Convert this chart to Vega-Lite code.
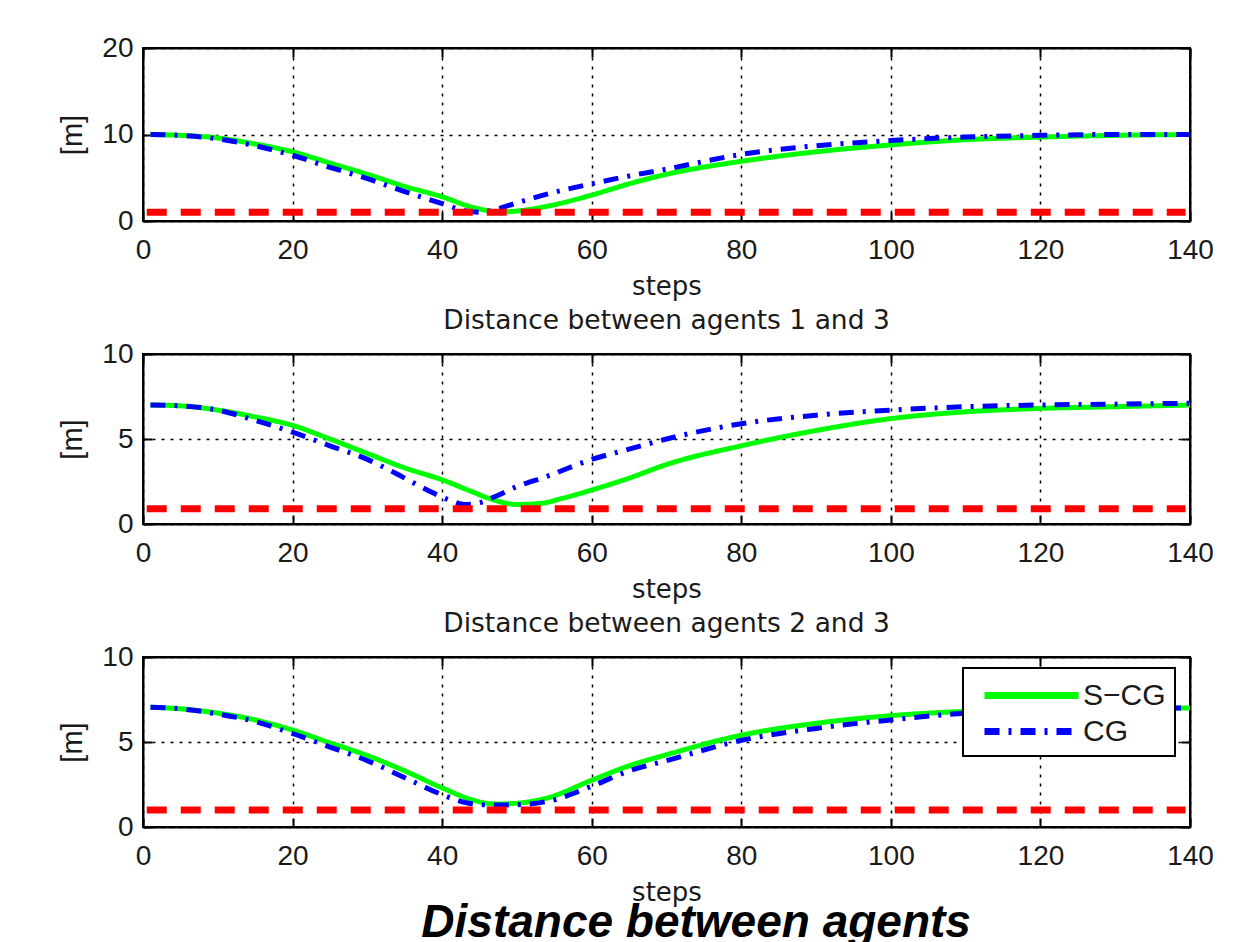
{
  "$schema": "https://vega.github.io/schema/vega-lite/v6.json",
  "padding": {"top": 33, "left": 57, "right": 0, "bottom": 0},
  "background": "white",
  "datasets": {
    "curves": [
      {"panel": 1, "series": "S-CG", "step": 1, "value": 10.0},
      {"panel": 1, "series": "S-CG", "step": 5, "value": 9.9},
      {"panel": 1, "series": "S-CG", "step": 10, "value": 9.6},
      {"panel": 1, "series": "S-CG", "step": 15, "value": 8.9},
      {"panel": 1, "series": "S-CG", "step": 20, "value": 8.0},
      {"panel": 1, "series": "S-CG", "step": 25, "value": 6.7},
      {"panel": 1, "series": "S-CG", "step": 30, "value": 5.4},
      {"panel": 1, "series": "S-CG", "step": 35, "value": 4.0},
      {"panel": 1, "series": "S-CG", "step": 40, "value": 2.8},
      {"panel": 1, "series": "S-CG", "step": 44, "value": 1.6},
      {"panel": 1, "series": "S-CG", "step": 48, "value": 1.05},
      {"panel": 1, "series": "S-CG", "step": 50, "value": 1.15},
      {"panel": 1, "series": "S-CG", "step": 54, "value": 1.7},
      {"panel": 1, "series": "S-CG", "step": 60, "value": 3.0},
      {"panel": 1, "series": "S-CG", "step": 65, "value": 4.3},
      {"panel": 1, "series": "S-CG", "step": 70, "value": 5.4},
      {"panel": 1, "series": "S-CG", "step": 80, "value": 6.9},
      {"panel": 1, "series": "S-CG", "step": 90, "value": 8.0},
      {"panel": 1, "series": "S-CG", "step": 100, "value": 8.8},
      {"panel": 1, "series": "S-CG", "step": 110, "value": 9.4},
      {"panel": 1, "series": "S-CG", "step": 120, "value": 9.7},
      {"panel": 1, "series": "S-CG", "step": 130, "value": 9.9},
      {"panel": 1, "series": "S-CG", "step": 140, "value": 10.0},
      {"panel": 1, "series": "CG", "step": 1, "value": 10.0},
      {"panel": 1, "series": "CG", "step": 5, "value": 9.9},
      {"panel": 1, "series": "CG", "step": 10, "value": 9.5},
      {"panel": 1, "series": "CG", "step": 15, "value": 8.7},
      {"panel": 1, "series": "CG", "step": 20, "value": 7.6},
      {"panel": 1, "series": "CG", "step": 25, "value": 6.2},
      {"panel": 1, "series": "CG", "step": 30, "value": 4.9},
      {"panel": 1, "series": "CG", "step": 35, "value": 3.4},
      {"panel": 1, "series": "CG", "step": 40, "value": 2.0},
      {"panel": 1, "series": "CG", "step": 43, "value": 1.2},
      {"panel": 1, "series": "CG", "step": 45, "value": 1.0},
      {"panel": 1, "series": "CG", "step": 47, "value": 1.3},
      {"panel": 1, "series": "CG", "step": 50, "value": 2.1},
      {"panel": 1, "series": "CG", "step": 54, "value": 3.1},
      {"panel": 1, "series": "CG", "step": 60, "value": 4.3},
      {"panel": 1, "series": "CG", "step": 65, "value": 5.2},
      {"panel": 1, "series": "CG", "step": 70, "value": 6.0},
      {"panel": 1, "series": "CG", "step": 80, "value": 7.7},
      {"panel": 1, "series": "CG", "step": 90, "value": 8.7},
      {"panel": 1, "series": "CG", "step": 100, "value": 9.3},
      {"panel": 1, "series": "CG", "step": 110, "value": 9.7},
      {"panel": 1, "series": "CG", "step": 120, "value": 9.9},
      {"panel": 1, "series": "CG", "step": 130, "value": 10.0},
      {"panel": 1, "series": "CG", "step": 140, "value": 10.0},
      {"panel": 2, "series": "S-CG", "step": 1, "value": 7.0},
      {"panel": 2, "series": "S-CG", "step": 5, "value": 6.95},
      {"panel": 2, "series": "S-CG", "step": 10, "value": 6.7},
      {"panel": 2, "series": "S-CG", "step": 15, "value": 6.3},
      {"panel": 2, "series": "S-CG", "step": 20, "value": 5.8},
      {"panel": 2, "series": "S-CG", "step": 25, "value": 5.0},
      {"panel": 2, "series": "S-CG", "step": 30, "value": 4.15},
      {"panel": 2, "series": "S-CG", "step": 35, "value": 3.3},
      {"panel": 2, "series": "S-CG", "step": 40, "value": 2.6},
      {"panel": 2, "series": "S-CG", "step": 44, "value": 1.9},
      {"panel": 2, "series": "S-CG", "step": 47, "value": 1.4},
      {"panel": 2, "series": "S-CG", "step": 50, "value": 1.15},
      {"panel": 2, "series": "S-CG", "step": 53, "value": 1.2},
      {"panel": 2, "series": "S-CG", "step": 56, "value": 1.5},
      {"panel": 2, "series": "S-CG", "step": 60, "value": 2.0},
      {"panel": 2, "series": "S-CG", "step": 65, "value": 2.7},
      {"panel": 2, "series": "S-CG", "step": 70, "value": 3.5},
      {"panel": 2, "series": "S-CG", "step": 80, "value": 4.6},
      {"panel": 2, "series": "S-CG", "step": 90, "value": 5.5},
      {"panel": 2, "series": "S-CG", "step": 100, "value": 6.2},
      {"panel": 2, "series": "S-CG", "step": 110, "value": 6.6},
      {"panel": 2, "series": "S-CG", "step": 120, "value": 6.8},
      {"panel": 2, "series": "S-CG", "step": 130, "value": 6.9},
      {"panel": 2, "series": "S-CG", "step": 140, "value": 7.0},
      {"panel": 2, "series": "CG", "step": 1, "value": 7.0},
      {"panel": 2, "series": "CG", "step": 5, "value": 6.95},
      {"panel": 2, "series": "CG", "step": 10, "value": 6.7},
      {"panel": 2, "series": "CG", "step": 15, "value": 6.1},
      {"panel": 2, "series": "CG", "step": 20, "value": 5.4},
      {"panel": 2, "series": "CG", "step": 25, "value": 4.6},
      {"panel": 2, "series": "CG", "step": 30, "value": 3.8},
      {"panel": 2, "series": "CG", "step": 35, "value": 2.7},
      {"panel": 2, "series": "CG", "step": 38, "value": 2.0},
      {"panel": 2, "series": "CG", "step": 41, "value": 1.4},
      {"panel": 2, "series": "CG", "step": 43, "value": 1.15},
      {"panel": 2, "series": "CG", "step": 45, "value": 1.25},
      {"panel": 2, "series": "CG", "step": 47, "value": 1.6},
      {"panel": 2, "series": "CG", "step": 50, "value": 2.2},
      {"panel": 2, "series": "CG", "step": 54, "value": 2.8},
      {"panel": 2, "series": "CG", "step": 60, "value": 3.8},
      {"panel": 2, "series": "CG", "step": 65, "value": 4.4},
      {"panel": 2, "series": "CG", "step": 70, "value": 5.0},
      {"panel": 2, "series": "CG", "step": 80, "value": 5.9},
      {"panel": 2, "series": "CG", "step": 90, "value": 6.4},
      {"panel": 2, "series": "CG", "step": 100, "value": 6.7},
      {"panel": 2, "series": "CG", "step": 110, "value": 6.9},
      {"panel": 2, "series": "CG", "step": 120, "value": 7.0},
      {"panel": 2, "series": "CG", "step": 130, "value": 7.05},
      {"panel": 2, "series": "CG", "step": 140, "value": 7.1},
      {"panel": 3, "series": "S-CG", "step": 1, "value": 7.05},
      {"panel": 3, "series": "S-CG", "step": 5, "value": 6.95},
      {"panel": 3, "series": "S-CG", "step": 10, "value": 6.7},
      {"panel": 3, "series": "S-CG", "step": 15, "value": 6.3},
      {"panel": 3, "series": "S-CG", "step": 20, "value": 5.7},
      {"panel": 3, "series": "S-CG", "step": 25, "value": 4.95},
      {"panel": 3, "series": "S-CG", "step": 30, "value": 4.2},
      {"panel": 3, "series": "S-CG", "step": 35, "value": 3.3},
      {"panel": 3, "series": "S-CG", "step": 40, "value": 2.3},
      {"panel": 3, "series": "S-CG", "step": 44, "value": 1.6},
      {"panel": 3, "series": "S-CG", "step": 47, "value": 1.35},
      {"panel": 3, "series": "S-CG", "step": 50, "value": 1.4},
      {"panel": 3, "series": "S-CG", "step": 54, "value": 1.7},
      {"panel": 3, "series": "S-CG", "step": 60, "value": 2.75},
      {"panel": 3, "series": "S-CG", "step": 65, "value": 3.6},
      {"panel": 3, "series": "S-CG", "step": 70, "value": 4.25},
      {"panel": 3, "series": "S-CG", "step": 80, "value": 5.4},
      {"panel": 3, "series": "S-CG", "step": 90, "value": 6.1},
      {"panel": 3, "series": "S-CG", "step": 100, "value": 6.55},
      {"panel": 3, "series": "S-CG", "step": 110, "value": 6.8},
      {"panel": 3, "series": "S-CG", "step": 120, "value": 6.9},
      {"panel": 3, "series": "S-CG", "step": 130, "value": 7.0},
      {"panel": 3, "series": "S-CG", "step": 140, "value": 7.0},
      {"panel": 3, "series": "CG", "step": 1, "value": 7.05},
      {"panel": 3, "series": "CG", "step": 5, "value": 6.95},
      {"panel": 3, "series": "CG", "step": 10, "value": 6.65},
      {"panel": 3, "series": "CG", "step": 15, "value": 6.2},
      {"panel": 3, "series": "CG", "step": 20, "value": 5.5},
      {"panel": 3, "series": "CG", "step": 25, "value": 4.7},
      {"panel": 3, "series": "CG", "step": 30, "value": 3.9},
      {"panel": 3, "series": "CG", "step": 35, "value": 2.9},
      {"panel": 3, "series": "CG", "step": 40, "value": 1.9},
      {"panel": 3, "series": "CG", "step": 43, "value": 1.45},
      {"panel": 3, "series": "CG", "step": 46, "value": 1.3},
      {"panel": 3, "series": "CG", "step": 49, "value": 1.3},
      {"panel": 3, "series": "CG", "step": 54, "value": 1.5},
      {"panel": 3, "series": "CG", "step": 60, "value": 2.4},
      {"panel": 3, "series": "CG", "step": 65, "value": 3.3},
      {"panel": 3, "series": "CG", "step": 70, "value": 3.9},
      {"panel": 3, "series": "CG", "step": 80, "value": 5.1},
      {"panel": 3, "series": "CG", "step": 90, "value": 5.8},
      {"panel": 3, "series": "CG", "step": 100, "value": 6.3},
      {"panel": 3, "series": "CG", "step": 110, "value": 6.7},
      {"panel": 3, "series": "CG", "step": 120, "value": 6.9},
      {"panel": 3, "series": "CG", "step": 130, "value": 7.0},
      {"panel": 3, "series": "CG", "step": 140, "value": 7.0}
    ],
    "limits": [
      {"panel": 1, "step": 0.5, "value": 1.0},
      {"panel": 1, "step": 139.4, "value": 1.0},
      {"panel": 2, "step": 0.5, "value": 0.9},
      {"panel": 2, "step": 139.4, "value": 0.9},
      {"panel": 3, "step": 0.5, "value": 1.0},
      {"panel": 3, "step": 139.4, "value": 1.0}
    ]
  },
  "title": {
    "text": "Distance between agents",
    "orient": "bottom",
    "anchor": "middle",
    "fontSize": 46,
    "fontStyle": "italic",
    "fontWeight": "bold",
    "font": "Liberation Sans",
    "color": "black",
    "dx": 60,
    "offset": -5
  },
  "spacing": 6,
  "resolve": {"legend": {"color": "independent", "strokeDash": "independent"}},
  "vconcat": [
    {
      "width": 1047,
      "height": 173,
      "layer": [
        {
          "data": {"name": "curves"},
          "transform": [{"filter": "datum.panel == 1"}],
          "mark": {"type": "line", "strokeWidth": 5, "interpolate": "monotone", "clip": true},
          "encoding": {
            "x": {"field": "step", "type": "quantitative", "scale": {"domain": [0, 140], "nice": false}, "axis": {"values": [0, 20, 40, 60, 80, 100, 120, 140], "title": "steps"}},
            "y": {"field": "value", "type": "quantitative", "scale": {"domain": [0, 20], "nice": false}, "axis": {"values": [0, 10, 20], "title": "[m]"}},
            "color": {"field": "series", "type": "nominal", "scale": {"domain": ["S-CG", "CG"], "range": ["#00ff00", "#0000ff"]}, "legend": null},
            "strokeDash": {"field": "series", "type": "nominal", "scale": {"domain": ["S-CG", "CG"], "range": [[1, 0], [15, 9, 3, 9]]}, "legend": null},
            "order": {"field": "step", "type": "quantitative"}
          }
        },
        {
          "data": {"name": "limits"},
          "transform": [{"filter": "datum.panel == 1"}],
          "mark": {"type": "line", "color": "#ff0000", "strokeWidth": 7, "strokeDash": [20, 14], "strokeCap": "butt"},
          "encoding": {
            "x": {"field": "step", "type": "quantitative", "axis": {"orient": "top", "values": [0, 20, 40, 60, 80, 100, 120, 140], "labels": false, "labelPadding": 4, "title": null, "grid": false}},
            "y": {"field": "value", "type": "quantitative", "axis": {"orient": "right", "values": [0, 10, 20], "labels": false, "labelPadding": 4, "title": null, "grid": false}}
          }
        }
      ],
      "resolve": {"axis": {"x": "independent", "y": "independent"}}
    },
    {
      "width": 1047,
      "height": 170,
      "title": {"text": "Distance between agents 1 and 3"},
      "layer": [
        {
          "data": {"name": "curves"},
          "transform": [{"filter": "datum.panel == 2"}],
          "mark": {"type": "line", "strokeWidth": 5, "interpolate": "monotone", "clip": true},
          "encoding": {
            "x": {"field": "step", "type": "quantitative", "scale": {"domain": [0, 140], "nice": false}, "axis": {"values": [0, 20, 40, 60, 80, 100, 120, 140], "title": "steps"}},
            "y": {"field": "value", "type": "quantitative", "scale": {"domain": [0, 10], "nice": false}, "axis": {"values": [0, 5, 10], "title": "[m]"}},
            "color": {"field": "series", "type": "nominal", "scale": {"domain": ["S-CG", "CG"], "range": ["#00ff00", "#0000ff"]}, "legend": null},
            "strokeDash": {"field": "series", "type": "nominal", "scale": {"domain": ["S-CG", "CG"], "range": [[1, 0], [15, 9, 3, 9]]}, "legend": null},
            "order": {"field": "step", "type": "quantitative"}
          }
        },
        {
          "data": {"name": "limits"},
          "transform": [{"filter": "datum.panel == 2"}],
          "mark": {"type": "line", "color": "#ff0000", "strokeWidth": 7, "strokeDash": [20, 14], "strokeCap": "butt"},
          "encoding": {
            "x": {"field": "step", "type": "quantitative", "axis": {"orient": "top", "values": [0, 20, 40, 60, 80, 100, 120, 140], "labels": false, "labelPadding": 4, "title": null, "grid": false}},
            "y": {"field": "value", "type": "quantitative", "axis": {"orient": "right", "values": [0, 5, 10], "labels": false, "labelPadding": 4, "title": null, "grid": false}}
          }
        }
      ],
      "resolve": {"axis": {"x": "independent", "y": "independent"}}
    },
    {
      "width": 1047,
      "height": 170,
      "title": {"text": "Distance between agents 2 and 3"},
      "layer": [
        {
          "data": {"name": "curves"},
          "transform": [{"filter": "datum.panel == 3"}],
          "mark": {"type": "line", "strokeWidth": 5, "interpolate": "monotone", "clip": true},
          "encoding": {
            "x": {"field": "step", "type": "quantitative", "scale": {"domain": [0, 140], "nice": false}, "axis": {"values": [0, 20, 40, 60, 80, 100, 120, 140], "title": "steps"}},
            "y": {"field": "value", "type": "quantitative", "scale": {"domain": [0, 10], "nice": false}, "axis": {"values": [0, 5, 10], "title": "[m]"}},
            "color": {"field": "series", "type": "nominal", "scale": {"domain": ["S-CG", "CG"], "range": ["#00ff00", "#0000ff"]}, "legend": {"orient": "none", "legendX": 820, "legendY": 11, "title": null, "labelExpr": "datum.label == 'S-CG' ? 'S\u2212CG' : datum.label"}},
            "strokeDash": {"field": "series", "type": "nominal", "scale": {"domain": ["S-CG", "CG"], "range": [[1, 0], [15, 9, 3, 9]]}, "legend": {"orient": "none", "legendX": 820, "legendY": 11, "title": null, "labelExpr": "datum.label == 'S-CG' ? 'S\u2212CG' : datum.label"}},
            "order": {"field": "step", "type": "quantitative"}
          }
        },
        {
          "data": {"name": "limits"},
          "transform": [{"filter": "datum.panel == 3"}],
          "mark": {"type": "line", "color": "#ff0000", "strokeWidth": 7, "strokeDash": [20, 14], "strokeCap": "butt"},
          "encoding": {
            "x": {"field": "step", "type": "quantitative", "axis": {"orient": "top", "values": [0, 20, 40, 60, 80, 100, 120, 140], "labels": false, "labelPadding": 4, "title": null, "grid": false}},
            "y": {"field": "value", "type": "quantitative", "axis": {"orient": "right", "values": [0, 5, 10], "labels": false, "labelPadding": 4, "title": null, "grid": false}}
          }
        }
      ],
      "resolve": {"axis": {"x": "independent", "y": "independent"}}
    }
  ],
  "config": {
    "font": "Liberation Sans",
    "view": {"stroke": "black", "strokeWidth": 2},
    "axis": {
      "labelFont": "Liberation Sans",
      "labelFontSize": 28,
      "labelColor": "#1a1a1a",
      "domainColor": "black",
      "domainWidth": 2,
      "tickColor": "black",
      "tickWidth": 2,
      "tickSize": -9,
      "grid": true,
      "gridColor": "black",
      "gridDash": [3, 6],
      "gridWidth": 1.5,
      "gridOpacity": 1,
      "labelFlush": false,
      "labelOverlap": false,
      "titleFontWeight": "normal",
      "titleColor": "#1a1a1a"
    },
    "axisX": {"labelPadding": 24, "titlePadding": 9, "titleFont": "DejaVu Sans", "titleFontSize": 26},
    "axisY": {"labelPadding": 19, "titlePadding": 14, "titleFont": "Liberation Sans", "titleFontSize": 29},
    "title": {"font": "DejaVu Sans", "fontSize": 26.5, "fontWeight": "normal", "color": "#1a1a1a", "offset": 6},
    "legend": {
      "labelFont": "Liberation Sans",
      "labelFontSize": 30,
      "labelColor": "#1a1a1a",
      "symbolType": "M-0.4,0H5.87",
      "symbolSize": 900,
      "symbolStrokeWidth": 7,
      "strokeColor": "black",
      "strokeWidth": 2,
      "fillColor": "white",
      "padding": 9,
      "rowPadding": 2,
      "labelOffset": 74
    }
  }
}
